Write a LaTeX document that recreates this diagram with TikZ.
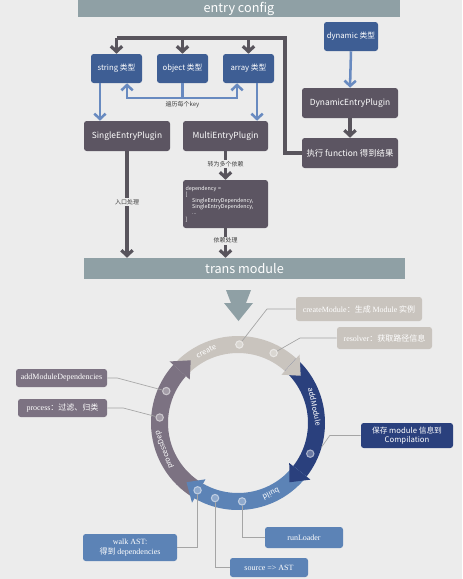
\documentclass[tikz,border=0pt]{standalone}
\usepackage{fontspec}
\setmainfont{Noto Sans CJK SC}
\newfontfamily\callserif{Liberation Serif}
\usepackage{tikz}
\usetikzlibrary{arrows.meta}

\definecolor{bgc}{RGB}{236,236,236}
\definecolor{barc}{RGB}{143,160,165}
\definecolor{typec}{RGB}{62,94,148}
\definecolor{plugc}{RGB}{92,85,98}
\definecolor{blinec}{RGB}{104,138,192}
\definecolor{dlinec}{RGB}{88,84,92}
\definecolor{createc}{RGB}{201,196,190}
\definecolor{addc}{RGB}{42,64,125}
\definecolor{buildc}{RGB}{92,131,182}
\definecolor{procc}{RGB}{124,114,130}
\definecolor{callc}{RGB}{165,165,165}

\begin{document}
\begin{tikzpicture}[x=0.75pt,y=0.75pt,yscale=-1,xscale=1,
  bar/.style={fill=barc, text=white, font=\fontsize{9.5}{11}\selectfont, inner sep=0pt},
  typebox/.style={fill=typec, rounded corners=2pt, text=white, font=\fontsize{5.8}{7}\selectfont, minimum width=38.25pt, minimum height=21.75pt, inner sep=1pt},
  plugbox/.style={fill=plugc, rounded corners=2pt, text=white, font=\fontsize{6.3}{8}\selectfont, minimum width=64.5pt, minimum height=22.5pt, inner sep=1pt},
  dline/.style={draw=dlinec, line width=2.4pt},
  bline/.style={draw=blinec, line width=1.9pt},
  chev/.style={-{Straight Barb[length=4pt,width=8.5pt]}},
  steplabel/.style={fill=bgc, text=black!75, font=\fontsize{4.5}{5}\selectfont, inner sep=1pt},
  callbox/.style={rounded corners=2pt, text=white, font=\fontsize{6}{7.5}\selectfont, inner sep=1pt, align=center},
  callline/.style={draw=callc, line width=0.5pt},
  ringdot/.style={circle, inner sep=0pt, minimum size=5.5pt, line width=0.8pt, draw=white!60!#1, fill=white!30!#1},
  ringlabel/.style={text=white, font=\fontsize{5.5}{6}\selectfont, inner sep=0pt}]
\fill[bgc] (0,0) rectangle (462,579);
\useasboundingbox (0,0) rectangle (462,579);

% Text Node
\node[bar, minimum width=241.5pt, minimum height=12.75pt] (entry) at (239,8.5) {entry config};
\node[bar, minimum width=240.75pt, minimum height=15.75pt] (trans) at (244.5,268.5) {trans module};

% Text Node
\node[typebox] (str) at (116.5,68.5) {string 类型};
\node[typebox] (obj) at (182.5,68.5) {object 类型};
\node[typebox] (arr) at (248.5,68.5) {array 类型};
\node[typebox, minimum width=40.5pt] (dyn) at (351,36.5) {dynamic 类型};

% Text Node
\node[plugbox] (single) at (127,136) {SingleEntryPlugin};
\node[plugbox, minimum width=63.75pt] (multi) at (225.5,136) {MultiEntryPlugin};
\node[plugbox, minimum width=72pt] (dynplug) at (350,103) {DynamicEntryPlugin};
\node[plugbox, minimum width=72pt] (exec) at (350,153) {执行 function 得到结果};
\node[plugbox, minimum width=63.75pt, minimum height=36pt, font=\fontsize{4}{4.6}\selectfont, align=left, text width=60pt] (dep) at (225.5,204)
  {dependency =\\ {[}\\ \hspace*{5pt}SingleEntryDependency,\\ \hspace*{5pt}SingleEntryDependency,\\ \hspace*{5pt}...\\ {]}};

%Straight Lines
\coordinate (looptop) at (285,38);
\draw[dline] (exec.west) -| (looptop) -- (str.north |- looptop);
\foreach \n in {str,obj,arr}
  \draw[dline,chev] (\n.north |- looptop) -- (\n.north);

%Straight Lines
\coordinate (split) at (182.5,98);
\draw[bline] (obj.south) -- (split);
\draw[bline,chev] (split) -| ([xshift=7.9pt]str.south);
\draw[bline,chev] (split) -| ([xshift=-8.6pt]arr.south);
\node[steplabel, fill=none, below=1pt] at (split) {遍历每个key};
\draw[bline,chev] ([xshift=-12.4pt]str.south) -- ([xshift=-12.4pt]str.south |- single.north);
\draw[bline,chev] ([xshift=6.4pt]arr.south) -- ([xshift=6.4pt]arr.south |- multi.north);
\draw[bline,chev] (dyn.south) -- (dynplug.north);
\draw[dline,chev] (dynplug.south) -- (exec.north);

%Straight Lines
\draw[dline,chev] (single.south) -- node[steplabel, pos=0.48] {入口处理} (single.south |- trans.north);
\draw[dline,chev] (multi.south) -- node[steplabel, pos=0.45] {转为多个依赖} (dep.north);
\draw[dline,chev] (dep.south) -- node[steplabel, pos=0.42] {依赖处理} (dep.south |- trans.north);

%Shape: Down arrow
\fill[barc] (226,290) -- (251,290) -- (246,303) -- (253,303) -- (238.5,321) -- (224,303) -- (231,303) -- cycle;

%Shape: Ring
\begin{scope}[shift={(238,423)},yscale=-1]
\foreach \a/\b/\c in {138/48/createc, 48/-38/addc, -38/-120/buildc, 240/138/procc}
  \fill[\c] (\a:87) arc[start angle=\a, end angle=\b, radius=87] -- (\b:70) arc[start angle=\b, end angle=\a, radius=70] -- cycle;
\foreach \b/\c [evaluate=\b as \t using \b-11] in {48/createc, -38/addc, -120/buildc, 138/procc}
  \fill[\c] (\b:65) -- (\b:92) -- (\t:78.5) -- cycle;
% Text Node
\node[ringlabel, rotate=25] at (114:78.5) {create};
\node[ringlabel, rotate=-78] at (12:78.5) {addModule};
\node[ringlabel, rotate=-155] at (-65:78.5) {build};
\node[ringlabel, rotate=110] at (200:78.5) {processDep};
\coordinate (saveend) at (-16:87);
\end{scope}

% Text Node
\node[callbox, fill=createc, minimum width=94.5pt, minimum height=18pt] (cm) at (359,309) {{\callserif createModule}：生成 {\callserif Module} 实例};
\node[callbox, fill=createc, minimum width=71.25pt, minimum height=16.5pt] (rs) at (384.5,338) {{\callserif resolver}：获取路径信息};
\node[callbox, fill=procc, minimum width=68.25pt, minimum height=13.5pt] (amd) at (61.5,378) {\callserif addModuleDependencies};
\node[callbox, fill=procc, minimum width=66.75pt, minimum height=13.5pt] (proc) at (62.5,408) {{\callserif process}：过滤、归类};
\node[callbox, fill=addc, minimum width=69pt, minimum height=18.75pt, font=\fontsize{5.8}{6.6}\selectfont] (save) at (407,435.5) {保存 module 信息到\\Compilation};
\node[callbox, fill=buildc, minimum width=58.5pt, minimum height=15.75pt] (rl) at (304,537.5) {\callserif runLoader};
\node[callbox, fill=buildc, minimum width=58.5pt, minimum height=14.25pt] (src) at (269,567.5) {\callserif source => AST};
\node[callbox, fill=buildc, minimum width=70.5pt, minimum height=20.25pt] (walk) at (130,547.5) {{\callserif walk AST:}\\得到 {\callserif dependencies}};

% Ring dots
\begin{scope}[shift={(238,423)},yscale=-1]
\node[ringdot=createc] (d1) at (89:78.5) {};
\node[ringdot=createc] (d2) at (63:78.5) {};
\node[ringdot=addc] (d3) at (-23:78.5) {};
\node[ringdot=buildc] (d4) at (-87:78.5) {};
\node[ringdot=buildc] (d5) at (-107:78.5) {};
\node[ringdot=buildc] (d6) at (-121:78.5) {};
\node[ringdot=procc] (d7) at (156:78.5) {};
\node[ringdot=procc] (d8) at (176:78.5) {};
\end{scope}

%Straight Lines
\draw[callline] (d1) -- (267,309) -- (cm.west);
\draw[callline] (d2) -- (300,338) -- (rs.west);
\draw[callline] (amd.east) -- ++(10,0) -- (d7);
\draw[callline] (proc.east) -- ++(16,0) -- (d8);
\draw[callline] (save.west) -- ++(-31,0) -- (saveend);
\draw[callline] (d4) |- (rl.west);
\draw[callline] (d5) |- (src.west);
\draw[callline] (d6) |- (walk.east);

\end{tikzpicture}
\end{document}
